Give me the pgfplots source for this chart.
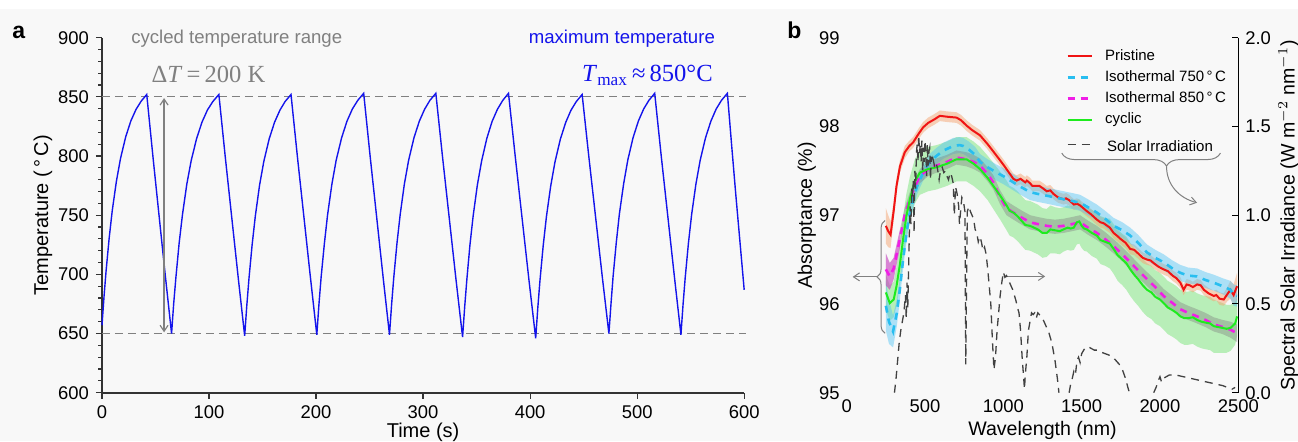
\documentclass[border=0pt]{standalone}
\usepackage{pgfplots}
\pgfplotsset{compat=1.18}
\usepackage{pgfplotstable}
\usepgfplotslibrary{fillbetween}
\usetikzlibrary{decorations.pathreplacing,arrows.meta}
\tikzset{fill between/on layer=main}
\usepackage{fontspec}
\setmainfont{Liberation Sans}
\newfontfamily\serifT{Liberation Serif}

\definecolor{bg}{RGB}{248,248,248}
\definecolor{myred}{RGB}{240,20,20}
\definecolor{mycyan}{RGB}{40,190,240}
\definecolor{mymag}{RGB}{240,30,230}
\definecolor{mygreen}{RGB}{30,235,30}
\definecolor{peach}{RGB}{245,165,115}
\definecolor{skyb}{RGB}{80,195,245}
\definecolor{lgreen}{RGB}{90,225,90}
\definecolor{solar}{RGB}{65,65,65}
\definecolor{annot}{RGB}{128,128,128}
\definecolor{tblue}{RGB}{20,20,235}

\pgfplotstableread{
t T
0 657
1.92 681.6
3.85 703.2
6.73 730.9
9.61 754.1
13.46 778.7
17.31 798.0
22.11 816.1
26.92 829.6
31.73 839.3
36.53 846.3
41.8 852
47.6 799.5
53.4 748.9
59.2 698.5
65.0 650
67.0 675.5
69.1 697.9
72.1 726.6
75.2 750.6
79.2 776.0
83.3 796.0
88.4 814.8
93.5 828.8
98.5 838.9
103.6 846.1
109.2 852
115.2 799.0
121.25 747.9
127.3 697.0
133.3 648
135.3 673.7
137.3 696.3
140.3 725.3
143.3 749.6
147.2 775.3
151.2 795.5
156.2 814.5
161.2 828.5
166.2 838.7
171.1 846.1
176.6 852
182.6 799.2
188.65 748.5
194.7 697.7
200.7 649
202.7 674.7
204.7 697.3
207.8 726.3
210.8 750.6
214.8 776.3
218.8 796.5
223.9 815.5
228.9 829.5
233.9 839.7
239.0 847.1
244.5 853
250.5 800.0
256.55 749.0
262.6 698.0
268.6 649
270.6 674.7
272.6 697.3
275.6 726.3
278.6 750.6
282.5 776.3
286.5 796.5
291.5 815.5
296.5 829.5
301.5 839.7
306.4 847.1
311.9 853
318.15 799.4
324.4 747.9
330.65 696.4
336.9 647
338.9 673.0
340.9 695.8
343.8 725.1
346.8 749.6
350.7 775.5
354.7 795.9
359.6 815.1
364.5 829.3
369.5 839.6
374.4 847.0
379.8 853
386.15 799.2
392.5 747.4
398.85 695.7
405.2 646
407.2 672.0
409.2 694.8
412.2 724.1
415.2 748.6
419.2 774.5
423.2 794.9
428.2 814.1
433.2 828.3
438.1 838.6
443.1 846.0
448.6 852
454.85 799.5
461.1 749.0
467.35 698.5
473.6 650
475.6 675.6
477.5 698.1
480.5 726.9
483.4 751.1
487.4 776.7
491.3 796.8
496.2 815.6
501.2 829.7
506.1 839.8
511.0 847.1
516.4 853
522.5 800.0
528.65 749.0
534.8 698.0
540.9 649
542.9 674.7
544.9 697.3
547.9 726.3
550.9 750.6
554.9 776.3
558.9 796.5
563.9 815.5
568.9 829.5
573.8 839.7
578.8 847.1
584.3 853
588.2 810
592.2 767
596.1 727
600 687
}\tempdata

\pgfplotstableread{
x y e
250 96.88 0.20
265 96.82 0.18
280 96.78 0.15
300 97.05 0.10
318 97.33 0.08
340 97.55 0.07
371 97.71 0.07
400 97.78 0.06
424 97.82 0.06
460 97.92 0.06
488 97.99 0.06
520 98.04 0.06
560 98.08 0.06
595 98.12 0.06
640 98.11 0.06
701 98.10 0.06
730 98.07 0.06
765 98.01 0.06
800 97.96 0.06
851 97.90 0.06
900 97.80 0.06
957 97.67 0.06
1000 97.57 0.06
1040 97.47 0.06
1064 97.41 0.06
1085 97.39 0.06
1110 97.41 0.06
1140 97.37 0.06
1150 97.39 0.06
1171 97.36 0.06
1185 97.33 0.06
1200 97.33 0.06
1230 97.33 0.06
1255 97.30 0.06
1277 97.27 0.06
1300 97.28 0.06
1320 97.24 0.06
1350 97.20 0.06
1384 97.18 0.06
1400 97.19 0.06
1420 97.17 0.06
1450 97.12 0.06
1470 97.13 0.06
1490 97.11 0.06
1510 97.08 0.06
1530 97.05 0.06
1560 97.01 0.06
1597 96.95 0.06
1620 96.92 0.06
1640 96.91 0.06
1680 96.86 0.06
1704 96.80 0.06
1725 96.77 0.06
1750 96.73 0.06
1780 96.69 0.06
1810 96.62 0.06
1835 96.61 0.06
1860 96.57 0.06
1890 96.52 0.06
1917 96.50 0.06
1940 96.49 0.06
1960 96.46 0.06
1990 96.42 0.06
2023 96.39 0.06
2050 96.37 0.06
2080 96.32 0.06
2105 96.29 0.06
2130 96.24 0.06
2151 96.16 0.06
2170 96.22 0.06
2190 96.21 0.06
2210 96.19 0.06
2237 96.22 0.06
2260 96.21 0.06
2280 96.16 0.06
2310 96.12 0.06
2343 96.09 0.06
2360 96.10 0.06
2380 96.06 0.07
2407 96.05 0.07
2430 96.11 0.08
2450 96.16 0.10
2470 96.10 0.12
2492 96.20 0.15
}\pristine

\pgfplotstableread{
x y e
250 95.98 0.28
270 95.80 0.25
296 95.69 0.18
320 95.90 0.15
339 96.16 0.12
360 96.50 0.10
382 96.80 0.10
400 97.00 0.10
424 97.18 0.10
450 97.33 0.09
488 97.48 0.09
530 97.60 0.09
574 97.67 0.09
620 97.73 0.09
680 97.78 0.09
720 97.79 0.09
744 97.78 0.09
780 97.74 0.09
820 97.68 0.09
851 97.60 0.09
900 97.54 0.09
957 97.48 0.09
1000 97.44 0.09
1064 97.37 0.09
1100 97.33 0.09
1171 97.26 0.09
1220 97.24 0.09
1277 97.22 0.09
1330 97.20 0.09
1384 97.18 0.09
1440 97.16 0.09
1490 97.14 0.09
1540 97.09 0.09
1597 97.03 0.09
1650 96.96 0.09
1704 96.88 0.09
1760 96.83 0.09
1810 96.77 0.09
1860 96.69 0.09
1917 96.58 0.09
1970 96.52 0.09
2023 96.47 0.09
2080 96.40 0.09
2130 96.35 0.09
2180 96.32 0.09
2237 96.31 0.09
2290 96.27 0.09
2343 96.24 0.09
2400 96.20 0.09
2450 96.16 0.10
2470 96.10 0.12
2492 96.09 0.12
}\isoA

\pgfplotstableread{
x y e
250 96.39 0.18
275 96.31 0.15
300 96.40 0.12
339 96.73 0.10
370 97.00 0.08
403 97.18 0.08
435 97.32 0.08
467 97.44 0.08
520 97.52 0.08
574 97.56 0.08
640 97.60 0.08
701 97.65 0.08
765 97.63 0.08
810 97.60 0.08
851 97.56 0.08
900 97.46 0.08
936 97.37 0.08
980 97.20 0.08
1020 97.08 0.08
1064 97.03 0.08
1120 96.97 0.08
1171 96.92 0.08
1220 96.90 0.08
1277 96.88 0.08
1330 96.87 0.08
1384 96.88 0.08
1440 96.90 0.08
1490 96.92 0.08
1540 96.86 0.08
1597 96.80 0.08
1650 96.73 0.08
1704 96.65 0.08
1760 96.56 0.08
1810 96.47 0.08
1860 96.38 0.08
1917 96.28 0.08
1970 96.19 0.08
2023 96.09 0.08
2080 96.01 0.08
2130 95.94 0.08
2180 95.90 0.08
2237 95.86 0.08
2290 95.82 0.08
2343 95.77 0.08
2400 95.74 0.08
2450 95.71 0.09
2492 95.67 0.10
}\isoB

\pgfplotstableread{
x y e
250 96.13 0.20
275 96.01 0.20
300 96.05 0.20
318 96.20 0.22
340 96.45 0.24
360 96.73 0.25
380 96.98 0.25
403 97.18 0.25
435 97.38 0.25
467 97.48 0.25
520 97.52 0.25
574 97.54 0.25
640 97.58 0.25
701 97.63 0.25
765 97.63 0.25
810 97.58 0.25
851 97.52 0.25
900 97.42 0.25
936 97.33 0.26
980 97.22 0.27
1021 97.11 0.28
1040 97.05 0.28
1064 97.03 0.28
1090 96.99 0.28
1110 96.95 0.28
1140 96.89 0.28
1171 96.88 0.28
1195 96.86 0.28
1220 96.84 0.28
1250 96.80 0.28
1277 96.80 0.27
1300 96.84 0.27
1330 96.83 0.26
1360 96.82 0.26
1384 96.84 0.25
1410 96.86 0.25
1430 96.85 0.25
1450 96.86 0.25
1469 96.92 0.25
1485 96.93 0.25
1500 96.88 0.25
1515 96.85 0.25
1533 96.84 0.25
1565 96.80 0.26
1597 96.77 0.26
1620 96.72 0.27
1650 96.70 0.27
1680 96.68 0.28
1704 96.62 0.28
1730 96.55 0.29
1760 96.50 0.29
1785 96.46 0.30
1810 96.39 0.30
1835 96.33 0.30
1860 96.28 0.30
1890 96.21 0.30
1917 96.16 0.30
1945 96.13 0.30
1970 96.08 0.30
2000 96.05 0.30
2023 96.01 0.30
2050 95.96 0.30
2080 95.93 0.30
2105 95.90 0.30
2130 95.86 0.30
2155 95.84 0.30
2180 95.84 0.30
2210 95.85 0.30
2237 95.82 0.30
2265 95.80 0.30
2290 95.79 0.30
2320 95.78 0.30
2343 95.75 0.30
2370 95.74 0.29
2400 95.73 0.28
2425 95.72 0.27
2450 95.73 0.26
2480 95.78 0.24
2492 95.86 0.22
}\cyclic

\pgfplotstableread{
x E
305 0.00
315 0.08
325 0.18
335 0.28
345 0.35
355 0.40
365 0.45
375 0.55
380 0.42
385 0.62
390 0.48
395 0.70
400 0.90
405 1.05
410 0.95
415 1.15
420 1.10
425 1.20
430 0.90
435 1.25
440 1.15
445 1.35
450 1.40
455 1.30
460 1.45
465 1.35
470 1.40
475 1.30
480 1.42
485 1.25
490 1.38
495 1.30
500 1.42
505 1.35
510 1.22
515 1.40
520 1.28
525 1.36
530 1.38
535 1.20
540 1.33
545 1.30
550 1.32
560 1.28
570 1.30
580 1.26
590 1.20
600 1.26
610 1.27
620 1.24
630 1.25
640 1.22
650 1.20
660 1.24
670 1.22
680 1.18
687 1.00
695 1.16
705 1.12
715 1.05
720 0.95
725 1.00
735 1.10
745 1.08
755 1.02
760 0.16
765 0.60
770 1.02
780 1.05
790 1.02
800 1.00
810 0.98
820 0.92
830 0.90
840 0.85
850 0.88
860 0.85
870 0.80
880 0.82
890 0.78
900 0.70
910 0.60
920 0.50
930 0.30
940 0.13
950 0.20
960 0.35
970 0.45
980 0.55
990 0.62
1000 0.68
1010 0.65
1020 0.66
1040 0.62
1060 0.58
1070 0.55
1080 0.52
1090 0.48
1100 0.45
1110 0.35
1120 0.20
1130 0.08
1135 0.02
1140 0.10
1150 0.20
1160 0.35
1170 0.40
1180 0.45
1190 0.44
1200 0.45
1210 0.42
1220 0.45
1230 0.44
1250 0.42
1270 0.38
1290 0.34
1310 0.28
1330 0.18
1345 0.08
1355 0.00
1380 nan
1420 0.00
1430 0.05
1440 0.08
1450 0.12
1460 0.10
1470 0.18
1480 0.20
1490 0.17
1500 0.22
1520 0.25
1540 0.26
1560 0.25
1580 0.24
1600 0.24
1620 0.23
1650 0.22
1680 0.21
1700 0.20
1720 0.18
1740 0.16
1760 0.13
1780 0.08
1795 0.03
1805 0.00
1900 nan
1960 0.00
1975 0.03
1990 0.07
2000 0.09
2010 0.06
2020 0.08
2040 0.09
2060 0.10
2100 0.10
2150 0.09
2200 0.08
2250 0.07
2300 0.06
2350 0.05
2400 0.04
2430 0.03
2460 0.02
2480 0.03
}\solar

\begin{document}
\begin{tikzpicture}
\fill[bg] (0,0) rectangle (649pt,220.5pt);
\fill[white] (0,216pt) rectangle (649pt,220.5pt);

% ---------------- panel a ----------------
\begin{axis}[
  at={(51pt,24.15pt)}, anchor=south west,
  scale only axis, width=321.1pt, height=177.5pt,
  xmin=0, xmax=600, ymin=600, ymax=900,
  axis x line*=bottom, axis y line*=left,
  axis line style={-, line width=0.8pt, draw=black!80},
  xtick={0,100,...,600}, ytick={600,650,...,900}, minor y tick num=4,
  tick align=outside, major tick length=3pt, minor tick length=1.8pt,
  tick style={black!80, line width=0.6pt},
  tick label style={font=\fontsize{9.2}{10}\selectfont},
  /pgf/number format/assume math mode=true,
  /pgf/number format/1000 sep={},
  xlabel={Time (s)}, ylabel={Temperature (\,°\,C)},
  label style={font=\fontsize{10}{12}\selectfont},
  xlabel style={at={(axis description cs:0.5,-0.111)}, anchor=center},
  ylabel style={at={(axis description cs:-0.092,0.5)}, anchor=center},
  clip=false,
]
\addplot[annot, dashed, dash pattern=on 4pt off 2.5pt, line width=0.6pt] coordinates {(0,850) (602,850)};
\addplot[annot, dashed, dash pattern=on 4pt off 2.5pt, line width=0.6pt] coordinates {(0,650) (602,650)};
\addplot[tblue, line width=0.7pt] table[x=t, y=T] {\tempdata};
\draw[annot, line width=0.6pt, {Straight Barb[length=3pt,width=4pt]}-{Straight Barb[length=3pt,width=4pt]}] (axis cs:58,849) -- (axis cs:58,651);
\node[anchor=west, text=annot, font=\fontsize{9.3}{11}\selectfont, inner sep=0pt] at (axis cs:27,899.5) {cycled temperature range};
\node[anchor=east, text=tblue, font=\fontsize{9.3}{11}\selectfont, inner sep=0pt] at (axis cs:573,899.5) {maximum temperature};
\node[anchor=base west, text=annot, font=\fontsize{12.3}{14}\selectfont\serifT, inner sep=0pt] at (axis cs:46,862.5) {Δ\textit{T}\,=\,200 K};
\node[anchor=base east, text=tblue, font=\fontsize{12.3}{14}\selectfont\serifT, inner sep=0pt] at (axis cs:571,863) {\textit{T}\textsubscript{max}\,≈\,850°C};
\end{axis}

% ---------------- panel b, left axis ----------------
\begin{axis}[
  at={(423.35pt,24.15pt)}, anchor=south west,
  scale only axis, width=195.8pt, height=177.5pt,
  xmin=0, xmax=2500, ymin=95, ymax=99,
  xtick={0,500,...,2500}, ytick={95,96,...,99}, ytick pos=left,
  tick align=inside, major tick length=3pt,
  axis line style={line width=0.6pt, black},
  tick style={black, line width=0.5pt},
  tick label style={font=\fontsize{9.2}{10}\selectfont},
  /pgf/number format/assume math mode=true,
  /pgf/number format/1000 sep={},
  scaled x ticks=false,
  xlabel={Wavelength (nm)}, ylabel={Absorptance (\%)},
  label style={font=\fontsize{9.8}{12}\selectfont},
  xlabel style={at={(axis description cs:0.5,-0.106)}, anchor=center},
  ylabel style={at={(axis description cs:-0.102,0.5)}, anchor=center},
  clip=false,
  legend style={at={(axis description cs:0.555,0.985)}, anchor=north west, draw=none, fill=none,
    font=\fontsize{7.5}{9}\selectfont, row sep=-0.4pt, inner sep=1pt},
  legend cell align=left,
  legend image code/.code={\draw[#1] (0pt,0pt) -- (12pt,0pt);},
]
% bands
\addplot[name path=cU, draw=none, forget plot] table[x=x, y expr=\thisrow{y}+\thisrow{e}] {\cyclic};
\addplot[name path=cL, draw=none, forget plot] table[x=x, y expr=\thisrow{y}-\thisrow{e}] {\cyclic};
\addplot[fill=lgreen, fill opacity=0.4, draw=none, forget plot] fill between[of=cU and cL];
\addplot[name path=pU, draw=none, forget plot] table[x=x, y expr=\thisrow{y}+\thisrow{e}] {\pristine};
\addplot[name path=pL, draw=none, forget plot] table[x=x, y expr=\thisrow{y}-\thisrow{e}] {\pristine};
\addplot[fill=peach, fill opacity=0.5, draw=none, forget plot] fill between[of=pU and pL];
\addplot[name path=aU, draw=none, forget plot] table[x=x, y expr=\thisrow{y}+\thisrow{e}] {\isoA};
\addplot[name path=aL, draw=none, forget plot] table[x=x, y expr=\thisrow{y}-\thisrow{e}] {\isoA};
\addplot[fill=skyb, fill opacity=0.45, draw=none, forget plot] fill between[of=aU and aL];
\addplot[name path=bU, draw=none, forget plot] table[x=x, y expr=\thisrow{y}+\thisrow{e}] {\isoB};
\addplot[name path=bL, draw=none, forget plot] table[x=x, y expr=\thisrow{y}-\thisrow{e}] {\isoB};
\addplot[fill=gray, fill opacity=0.4, draw=none, forget plot] fill between[of=bU and bL];
\addplot[name path=sU, draw=none, forget plot, restrict x to domain=250:340] table[x=x, y expr=\thisrow{y}+\thisrow{e}] {\isoB};
\addplot[name path=sL, draw=none, forget plot, restrict x to domain=250:340] table[x=x, y expr=\thisrow{y}-\thisrow{e}] {\isoB};
\addplot[fill=mymag, fill opacity=0.4, draw=none, forget plot] fill between[of=sU and sL];
% lines
\addplot[myred, line width=1pt] table[x=x, y=y] {\pristine};
\addlegendentry{\hspace{4pt}Pristine}
\addplot[mycyan, line width=1.3pt, dash pattern=on 3.5pt off 3pt] table[x=x, y=y] {\isoA};
\addlegendentry{\hspace{4pt}Isothermal 750\,°\,C}
\addplot[mymag, line width=1.3pt, dash pattern=on 3.5pt off 3pt] table[x=x, y=y] {\isoB};
\addlegendentry{\hspace{4pt}Isothermal 850\,°\,C}
\addplot[mygreen, line width=1pt] table[x=x, y=y] {\cyclic};
\addlegendentry{\hspace{4pt}cyclic}
\addlegendimage{solar, line width=0.65pt, dash pattern=on 4pt off 3pt}
\addlegendentry{\rule{0pt}{9pt}\hspace{5pt}Solar Irradiation}
% annotations
\draw[annot, line width=0.5pt, decorate, decoration={brace, amplitude=4pt}] (axis cs:245,95.67) -- (axis cs:245,96.94);
\draw[annot, line width=0.5pt, -{Straight Barb[length=3pt,width=4pt]}] (axis cs:192,96.305) -- (axis cs:38,96.305);
\draw[annot, line width=0.5pt, decorate, decoration={brace, amplitude=6.5pt, aspect=0.34}] (axis cs:2386,97.70) -- (axis cs:1373,97.70);
\draw[annot, line width=0.5pt, -{Straight Barb[length=3pt,width=4pt]}] (axis cs:2042,97.55) to[out=-90, in=165] (axis cs:2237,97.14);
\draw[annot, line width=0.5pt, -{Straight Barb[length=3pt,width=4pt]}] (axis cs:1021,96.31) -- (axis cs:1267,96.31);
\end{axis}

% ---------------- panel b, right axis ----------------
\begin{axis}[
  at={(423.35pt,24.15pt)}, anchor=south west,
  scale only axis, width=195.8pt, height=177.5pt,
  xmin=0, xmax=2500, ymin=0, ymax=2,
  axis x line=none, axis y line*=right,
  axis line style={-, line width=0.6pt, black},
  ytick={0,0.5,...,2}, tick align=inside, major tick length=3pt,
  tick style={black, line width=0.5pt},
  yticklabel style={font=\fontsize{9.2}{10}\selectfont, /pgf/number format/fixed, /pgf/number format/fixed zerofill, /pgf/number format/precision=1},
  /pgf/number format/assume math mode=true,
  ylabel={Spectral Solar Irradiance (W m$^{-2}$ nm$^{-1}$)},
  label style={font=\fontsize{9.8}{12}\selectfont},
  ylabel style={at={(axis description cs:1.128,0.5)}, anchor=center},
  unbounded coords=jump,
]
\addplot[solar, line width=0.65pt, dash pattern=on 4pt off 3pt] table[x=x, y=E] {\solar};
\end{axis}

\node[anchor=base west, font=\fontsize{11.5}{13}\selectfont\bfseries, inner sep=0pt] at (6pt,201.5pt) {a};
\node[anchor=base west, font=\fontsize{11.5}{13}\selectfont\bfseries, inner sep=0pt] at (393.5pt,201.5pt) {b};

\pgfresetboundingbox
\useasboundingbox (0,0) rectangle (649pt,220.5pt);
\end{tikzpicture}
\end{document}
